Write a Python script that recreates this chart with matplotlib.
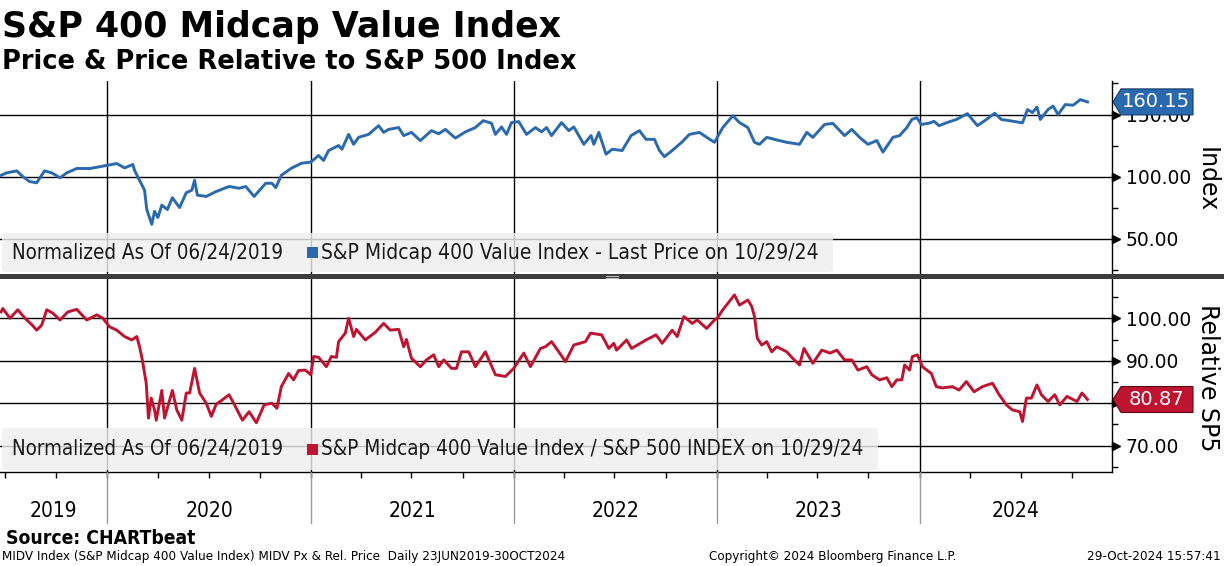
import matplotlib
matplotlib.use('Agg')
import matplotlib.pyplot as plt
import matplotlib.patches as mpatches
import matplotlib.transforms as mtrans
from matplotlib import font_manager
import numpy as np
import pandas as pd

# ---------------- data ----------------
price_dates = [
"2019-06-24","2019-07-04","2019-07-22","2019-08-02","2019-08-14","2019-08-27","2019-09-10","2019-09-23","2019-10-08","2019-10-20","2019-11-07","2019-12-01","2019-12-19",
"2020-01-01","2020-01-18","2020-02-01","2020-02-16","2020-02-19","2020-02-28","2020-03-08","2020-03-12","2020-03-21","2020-03-26","2020-04-01","2020-04-08","2020-04-18","2020-04-27","2020-05-10","2020-05-22","2020-06-01","2020-06-06","2020-06-11","2020-06-27","2020-07-15","2020-08-07","2020-08-25","2020-09-06","2020-09-21","2020-10-12","2020-10-23","2020-10-30","2020-11-09","2020-11-27","2020-12-15",
"2021-01-01","2021-01-15","2021-01-24","2021-02-02","2021-02-20","2021-02-26","2021-03-10","2021-03-19","2021-03-28","2021-04-15","2021-05-03","2021-05-12","2021-05-21","2021-06-08","2021-06-17","2021-07-01","2021-07-17","2021-08-06","2021-08-19","2021-08-31","2021-09-18","2021-10-06","2021-10-24","2021-11-07","2021-11-22","2021-11-29","2021-12-10","2021-12-19","2021-12-28",
"2022-01-10","2022-01-24","2022-02-09","2022-02-20","2022-03-01","2022-03-10","2022-03-28","2022-04-10","2022-04-19","2022-05-07","2022-05-20","2022-05-25","2022-06-03","2022-06-16","2022-06-27","2022-07-15","2022-07-31","2022-08-15","2022-08-27","2022-09-11","2022-09-20","2022-09-29","2022-10-13","2022-10-30","2022-11-13","2022-12-01","2022-12-14","2022-12-28",
"2023-01-12","2023-01-30","2023-02-11","2023-02-26","2023-03-10","2023-03-19","2023-04-01","2023-04-19","2023-05-07","2023-05-30","2023-06-12","2023-06-23","2023-07-14","2023-07-29","2023-08-19","2023-09-01","2023-09-15","2023-09-30","2023-10-16","2023-10-27","2023-11-08","2023-11-14","2023-11-26","2023-12-09","2023-12-18","2023-12-27",
"2024-01-04","2024-01-18","2024-01-27","2024-02-05","2024-02-18","2024-03-07","2024-03-27","2024-04-14","2024-04-30","2024-05-15","2024-05-27","2024-06-11","2024-07-04","2024-07-13","2024-07-22","2024-07-30","2024-08-05","2024-08-19","2024-08-28","2024-09-06","2024-09-19","2024-10-03","2024-10-16","2024-10-29"]
price_values = [
101, 103, 104.6, 100, 96, 95, 104.6, 103, 99, 103, 106.5, 106.5, 108,
109, 110.5, 107, 109.7, 105, 97, 89, 73.4, 61.5, 72, 67, 77, 73.4, 83, 75, 87, 89, 97, 85, 84, 88, 92, 90.6, 92, 84, 94.6, 94.6, 91, 101, 106.7, 110.7,
111.7, 117, 113, 121, 125, 122, 134, 126, 131.6, 134, 141, 135.6, 138, 139.5, 133, 135.6, 129, 137, 134.5, 138, 131, 136, 139.5, 145, 143, 134, 140, 134, 143.5,
144.3, 134, 139.5, 136, 139.5, 133, 143.5, 137, 140, 126, 133, 126, 135.6, 118, 122, 121, 133, 137, 130, 130, 121, 116, 121, 127.6, 134, 135.6, 131.6, 127.6,
139.5, 149, 143.5, 139.5, 127.6, 126, 131.6, 129.5, 127.6, 126, 135.6, 131.6, 142, 142.8, 133, 138, 131.6, 126, 129, 119.7, 127.6, 131.6, 133, 139.5, 146, 147.5,
142, 143, 144.5, 141, 143.3, 146, 150.7, 141, 146, 151, 146, 145, 143.3, 154, 151.6, 156, 146, 154, 156.8, 150, 158, 157.5, 162, 160.15]

rel_dates = [
"2019-06-24","2019-06-27","2019-07-10","2019-07-24","2019-08-06","2019-08-19","2019-08-27","2019-09-05","2019-09-14","2019-09-25","2019-10-08","2019-10-22","2019-11-07","2019-11-25","2019-12-13","2019-12-24",
"2020-01-05","2020-01-18","2020-02-01","2020-02-14","2020-02-23","2020-02-28","2020-03-04","2020-03-11","2020-03-15","2020-03-20","2020-03-26","2020-03-29","2020-04-08","2020-04-13","2020-04-27","2020-05-05","2020-05-14","2020-05-22","2020-05-28","2020-06-06","2020-06-15","2020-06-27","2020-07-06","2020-07-15","2020-07-24","2020-08-07","2020-08-20","2020-08-31","2020-09-12","2020-09-25","2020-10-09","2020-10-23","2020-11-01","2020-11-09","2020-11-22","2020-12-01","2020-12-10","2020-12-22",
"2021-01-01","2021-01-06","2021-01-15","2021-01-29","2021-02-07","2021-02-16","2021-02-20","2021-03-04","2021-03-10","2021-03-19","2021-03-24","2021-04-09","2021-04-27","2021-05-12","2021-05-24","2021-06-08","2021-06-17","2021-06-22","2021-07-01","2021-07-17","2021-07-28","2021-08-10","2021-08-19","2021-08-28","2021-09-11","2021-09-20","2021-09-29","2021-10-12","2021-10-24","2021-11-11","2021-11-29","2021-12-17",
"2022-01-01","2022-01-19","2022-01-31","2022-02-18","2022-02-27","2022-03-10","2022-03-23","2022-04-04","2022-04-19","2022-05-10","2022-05-19","2022-06-08","2022-06-21","2022-06-30","2022-07-05","2022-07-23","2022-08-01","2022-08-27","2022-09-14","2022-09-25","2022-10-13","2022-10-22","2022-11-03","2022-11-18","2022-11-27","2022-12-14","2022-12-28",
"2023-01-02","2023-01-12","2023-02-02","2023-02-11","2023-02-26","2023-03-05","2023-03-10","2023-03-15","2023-03-23","2023-04-01","2023-04-10","2023-04-19","2023-05-07","2023-05-16","2023-05-30","2023-06-07","2023-06-23","2023-07-09","2023-07-24","2023-08-05","2023-08-19","2023-09-01","2023-09-12","2023-09-28","2023-10-07","2023-10-21","2023-11-03","2023-11-12","2023-11-21","2023-11-30","2023-12-05","2023-12-14","2023-12-19","2023-12-28",
"2024-01-06","2024-01-22","2024-01-31","2024-02-11","2024-02-29","2024-03-12","2024-03-25","2024-04-08","2024-04-23","2024-05-11","2024-05-23","2024-06-05","2024-06-16","2024-06-29","2024-07-04","2024-07-11","2024-07-20","2024-07-30","2024-08-07","2024-08-19","2024-08-31","2024-09-09","2024-09-22","2024-10-10","2024-10-19","2024-10-29"]
rel_values = [
101.5, 102.3, 100, 102, 100, 98.4, 97.2, 98.4, 102, 101.2, 99.6, 101.5, 102.1, 99.6, 100.8, 100,
98, 97.2, 95.7, 94.9, 95.7, 93.3, 90.2, 84.7, 76.5, 81.2, 78.4, 76, 83, 76.5, 83, 78.4, 76, 82.4, 82.4, 88.2, 82.4, 80, 76.9, 79.8, 80.6, 82, 78.8, 76, 78, 75.4, 79.6, 80, 78.8, 83.9, 87, 85.5, 87.7, 87.8,
86.7, 91, 90.8, 88.6, 91, 90.8, 94.5, 96.5, 100, 95.7, 97.4, 94.9, 96.7, 98.8, 97.2, 97.4, 93.3, 95, 90.6, 88.6, 90.2, 91.4, 88.6, 90.2, 88.2, 88.2, 92.1, 92.1, 88.6, 92.1, 86.7, 86.3,
88.2, 91.8, 88.6, 92.9, 93.3, 94.5, 92.1, 89.8, 93.7, 94.5, 96.5, 96.1, 92.9, 94.1, 92.5, 94.9, 92.9, 94.9, 96.1, 94.1, 97.2, 95.7, 100.4, 98.8, 99.6, 97.6, 99.6,
100, 102, 105.5, 103.1, 104.3, 102.8, 100.4, 95.3, 93.7, 94.5, 92.1, 93.3, 92.1, 90.8, 89, 92.9, 89.4, 92.5, 91.8, 92.5, 90.2, 90.2, 87.8, 88.6, 86.7, 85.5, 86, 83.9, 85.5, 85.5, 89, 87.8, 91, 91.4,
88.6, 87, 83.9, 83.6, 83.9, 83.1, 85.1, 82.7, 83.9, 84.7, 82, 79.6, 78.4, 78, 75.7, 81.2, 81.2, 84.3, 82, 80.4, 82, 79.6, 81.6, 80.4, 82.4, 80.87]

years = [2019, 2020, 2021, 2022, 2023, 2024]
price_ticks = [50, 100, 150]
price_minor = [25, 75, 125, 175]
rel_ticks = [70, 80, 90, 100]
rel_minor = [65, 75, 85, 95, 105]

title = "S&P 400 Midcap Value Index"
subtitle = "Price & Price Relative to S&P 500 Index"
legend_note = "Normalized As Of 06/24/2019"
legend_price = "S&P Midcap 400 Value Index - Last Price on 10/29/24"
legend_rel = "S&P Midcap 400 Value Index / S&P 500 INDEX on 10/29/24"
axis_title_price = "Index"
axis_title_rel = "Relative SP5"
source = "Source: CHARTbeat"
footer_left = "MIDV Index (S&P Midcap 400 Value Index) MIDV Px & Rel. Price  Daily 23JUN2019-30OCT2024"
footer_mid = "Copyright\u00a9 2024 Bloomberg Finance L.P."
footer_right = "29-Oct-2024 15:57:41"

BLUE = "#2a69ad"
RED = "#bf1430"

# ---------------- fonts ----------------
names = {f.name for f in font_manager.fontManager.ttflist}
if 'Liberation Sans Narrow' in names:
    NARROW = dict(family='Liberation Sans Narrow')
else:
    NARROW = dict(family='DejaVu Sans', stretch='condensed')
plt.rcParams['font.family'] = ['DejaVu Sans']

W, H = 1224, 566
fig = plt.figure(figsize=(W / 100, H / 100), dpi=100)
fig.patch.set_facecolor('white')


def rect(x0, y0, x1, y1):
    return [x0 / W, 1 - y1 / H, (x1 - x0) / W, (y1 - y0) / H]


def fy(y):
    return 1 - y / H


XMIN = pd.Timestamp('2019-06-22')
XMAX = pd.Timestamp('2024-12-12')

ax1 = fig.add_axes(rect(0, 81, 1112, 274))
ax2 = fig.add_axes(rect(0, 279, 1112, 472))
ax3 = fig.add_axes(rect(0, 472, 1112, 524))
ax3.set_facecolor('none')

pd_price = pd.to_datetime(price_dates)
pd_rel = pd.to_datetime(rel_dates)
boundaries = [pd.Timestamp(f'{y}-01-01') for y in years[1:]]

panels = [
    (ax1, pd_price, price_values, BLUE, price_ticks, price_minor, (21.5, 177)),
    (ax2, pd_rel, rel_values, RED, rel_ticks, rel_minor, (63.8, 109.25)),
]
for ax, d, v, col, ticks, minor, ylim in panels:
    ax.set_xlim(XMIN, XMAX)
    ax.set_ylim(*ylim)
    ax.plot(d, v, color=col, lw=2.1, solid_joinstyle='round', zorder=5)
    for b in boundaries:
        ax.axvline(b, color='black', lw=1.0, zorder=1)
    ax.set_yticks(ticks)
    ax.set_yticks(minor, minor=True)
    ax.set_yticklabels([f'{t:.2f}' for t in ticks])
    ax.yaxis.tick_right()
    ax.grid(axis='y', which='major', color='black', lw=1.0, zorder=1)
    ax.set_axisbelow(True)
    ax.tick_params(axis='y', which='major', length=0, pad=10, labelsize=13.5)
    ax.tick_params(axis='y', which='minor', length=4, width=1, color='black', direction='out')
    for s in ['left', 'top']:
        ax.spines[s].set_visible(False)
    ax.spines['right'].set_color('black')
    ax.spines['right'].set_linewidth(1.0)
    # triangular major tick markers
    tr = mtrans.offset_copy(ax.get_yaxis_transform(), fig=fig, x=4, y=0, units='dots')
    ax.plot([1.0] * len(ticks), ticks, ls='none', marker='>', ms=5.5, color='black',
            transform=tr, clip_on=False, zorder=6)

ax1.spines['bottom'].set_visible(False)
ax1.tick_params(axis='x', which='both', length=0, labelbottom=False)
ax2.spines['bottom'].set_color('black')
ax2.spines['bottom'].set_linewidth(1.0)
quarters = pd.date_range('2019-07-01', '2024-10-01', freq='QS')
ax2.set_xticks(quarters)
ax2.tick_params(axis='x', which='major', direction='out', length=4, width=1,
                color='black', labelbottom=False)
ax2.tick_params(axis='x', which='minor', length=0)

# year strip
ax3.set_xlim(XMIN, XMAX)
ax3.set_ylim(0, 1)
ax3.axis('off')
for b in boundaries:
    ax3.axvline(b, color='#9a9a9a', lw=1.0)
edges = [XMIN] + boundaries + [XMAX]
for i, y in enumerate(years):
    c = edges[i] + (edges[i + 1] - edges[i]) / 2
    ax3.text(c, 0.25, str(y), ha='center', va='center', fontsize=15, **NARROW)

# separator bar
fig.add_artist(mpatches.Rectangle((0, fy(279)), 1, 5 / H, transform=fig.transFigure,
                                  facecolor='#3c3c3c', edgecolor='none', zorder=10))
for yy in (275.8, 277.6):
    fig.add_artist(plt.Line2D([606 / W, 618 / W], [fy(yy), fy(yy)], color='#b8b8b8', lw=0.8,
                              transform=fig.transFigure, zorder=11))

renderer = fig.canvas.get_renderer()


def fit(t, width):
    bb = t.get_window_extent(renderer)
    t.set_fontsize(t.get_fontsize() * width / bb.width)


# legend boxes
def legend(y0, y1, x1, text2, col):
    box = mpatches.FancyBboxPatch((2 / W, fy(y1)), (x1 - 2) / W, (y1 - y0) / H,
                                  boxstyle='round,pad=0,rounding_size=0.004',
                                  transform=fig.transFigure, facecolor='#eeeeee',
                                  edgecolor='none', alpha=0.82, zorder=3)
    fig.add_artist(box)
    yc = (y0 + y1) / 2
    t1 = fig.text(12 / W, fy(yc), legend_note, ha='left', va='center', fontsize=14,
                  color='#1a1a1a', zorder=4, **NARROW)
    fit(t1, 273)
    fig.add_artist(mpatches.Rectangle((307 / W, fy(yc + 5.5)), 11 / W, 11 / H,
                                      transform=fig.transFigure, facecolor=col,
                                      edgecolor='none', zorder=4))
    t2 = fig.text(321 / W, fy(yc), text2, ha='left', va='center', fontsize=14,
                  color='#1a1a1a', zorder=4, **NARROW)
    return t1, t2


l1, l2 = legend(233, 272, 833, legend_price, BLUE)
fit(l2, 500)
l3, l4 = legend(428, 470, 878, legend_rel, RED)
fit(l4, 545)


# value tags
def tag(ax, val, text, col, edge):
    ypx = H - ax.transData.transform((0, val))[1]
    xs = [1113, 1121, 1193, 1193, 1121]
    ys = [ypx, ypx - 13, ypx - 13, ypx + 13, ypx + 13]
    poly = mpatches.Polygon([(x / W, fy(y)) for x, y in zip(xs, ys)], closed=True,
                            transform=fig.transFigure, facecolor=col, edgecolor=edge,
                            lw=0.8, zorder=12)
    fig.add_artist(poly)
    fig.text(1156 / W, fy(ypx), text, ha='center', va='center', fontsize=14,
             color='white', zorder=13)
    # hide tick labels that sit completely under the tag (as in the reference)
    for lab, tv in zip(ax.get_yticklabels(), ax.get_yticks()):
        if abs(tv - val) < 1.0:
            lab.set_visible(False)


tag(ax1, price_values[-1], f'{price_values[-1]:.2f}', BLUE, '#123a66')
tag(ax2, rel_values[-1], f'{rel_values[-1]:.2f}', RED, '#5a0a16')

# axis titles
fig.text(1207 / W, fy(180), axis_title_price, rotation=270, ha='center', va='center', fontsize=17)
fig.text(1208 / W, fy(378), axis_title_rel, rotation=270, ha='center', va='center', fontsize=17)

# titles
t = fig.text(2 / W, fy(37), title, ha='left', va='baseline', fontsize=26, fontweight='bold')
fit(t, 560)
t = fig.text(2 / W, fy(69), subtitle, ha='left', va='baseline', fontsize=18, fontweight='bold')
fit(t, 576)

# footer
t = fig.text(6 / W, fy(544), source, ha='left', va='baseline', fontsize=13, fontweight='bold', **NARROW)
fit(t, 189)
f1 = fig.text(2 / W, fy(560), footer_left, ha='left', va='baseline', fontsize=9, **NARROW)
fit(f1, 564)
fs = f1.get_fontsize()
fig.text(709 / W, fy(560), footer_mid, ha='left', va='baseline', fontsize=fs, **NARROW)
fig.text(1221 / W, fy(560), footer_right, ha='right', va='baseline', fontsize=fs, **NARROW)

fig.savefig('out.png', dpi=100, facecolor='white')
